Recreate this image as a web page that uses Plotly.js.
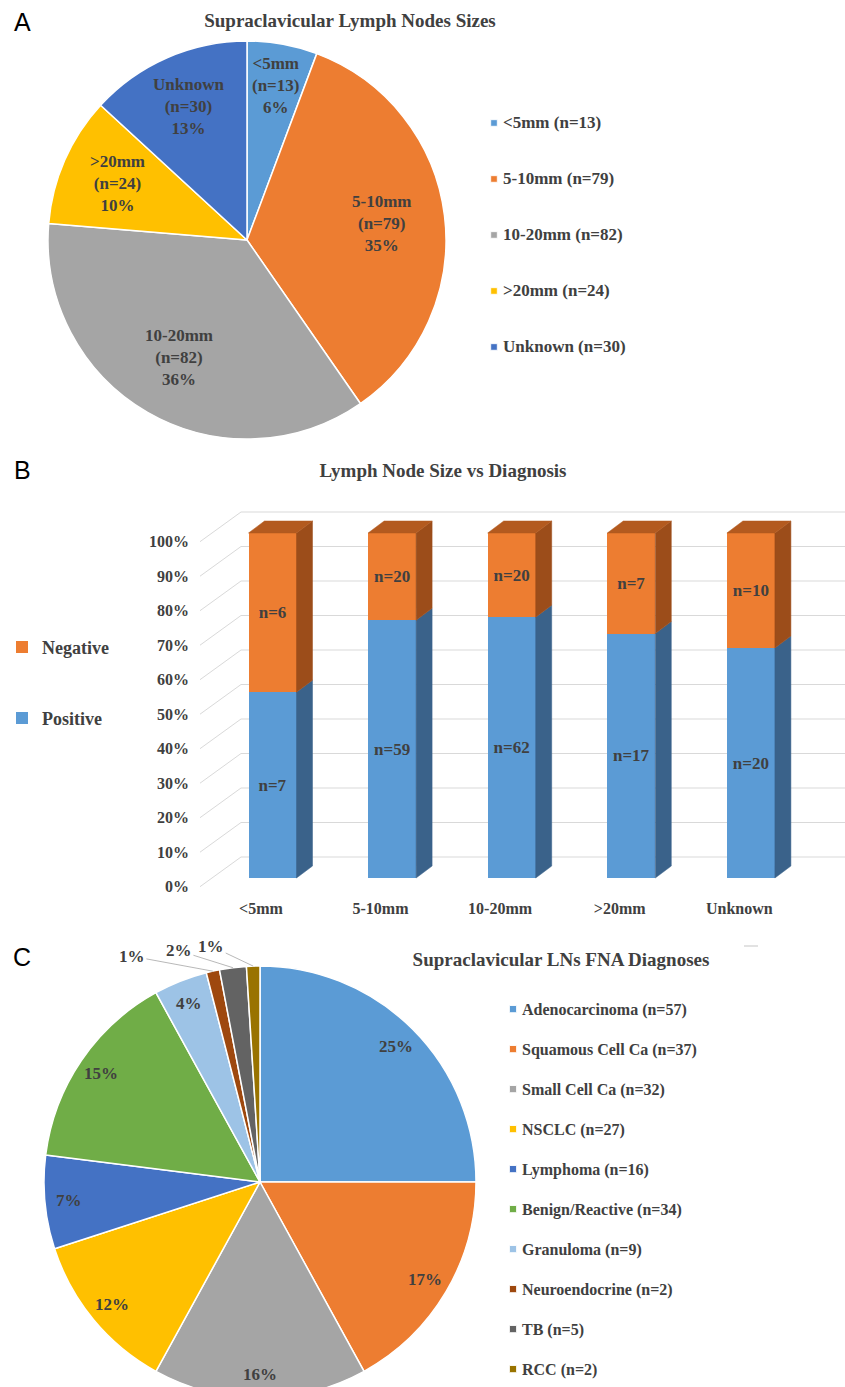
<!DOCTYPE html>
<html><head><meta charset="utf-8">
<script src="https://cdn.plot.ly/plotly-3.0.1.min.js"></script>
<style>
html,body{margin:0;padding:0;overflow:hidden;background:#fff;width:845px;height:1387px;}
.panel{position:absolute;left:0;width:845px;}
#pa{top:0;height:460px}
#pb{top:455px;height:475px}
#pc{top:930px;height:480px}
#pa .legendpie{transform:translate(31px,0px) scale(0.55);}
#pc .legendpie{transform:translate(31px,0px) scale(0.6);}
#pb .legendbar{transform:translate(29px,0px) scale(0.75);}
</style></head><body>
<div id="pa" class="panel"></div>
<div id="pb" class="panel"></div>
<div id="pc" class="panel"></div>
<script>
// ---------------- DATA ----------------
const sizeCategories = ['<5mm', '5-10mm', '10-20mm', '>20mm', 'Unknown'];
const sizeCounts = [13, 79, 82, 24, 30];
const sizePctLabels = [6, 35, 36, 10, 13];

const diagCategories = ['<5mm', '5-10mm', '10-20mm', '>20mm', 'Unknown'];
const positiveCounts = [7, 59, 62, 17, 20];
const negativeCounts = [6, 20, 20, 7, 10];
const yTickValues = [0, 10, 20, 30, 40, 50, 60, 70, 80, 90, 100];

const fnaCategories = ['Adenocarcinoma', 'Squamous Cell Ca', 'Small Cell Ca', 'NSCLC', 'Lymphoma',
  'Benign/Reactive', 'Granuloma', 'Neuroendocrine', 'TB', 'RCC'];
const fnaCounts = [57, 37, 32, 27, 16, 34, 9, 2, 5, 2];
const fnaPercents = [25, 17, 16, 12, 7, 15, 4, 1, 2, 1];

// ---------------- STYLE ----------------
const W = 845;
const SERIF = 'Liberation Serif, Times New Roman, serif';
const TXT = '#404040';
const sizeColors = ['#5B9BD5', '#ED7D31', '#A5A5A5', '#FFC000', '#4472C4'];
const fnaColors = ['#5B9BD5', '#ED7D31', '#A5A5A5', '#FFC000', '#4472C4', '#70AD47', '#9DC3E6', '#9E480E', '#636363', '#997300'];
const posColor = '#5B9BD5', negColor = '#ED7D31';
const posSide = '#3A628A', negSide = '#9C4D1A', negTop = '#B35A1F';
const gridColor = '#D9D9D9';
const cfg = {staticPlot: true};

function esc(s) { return s.replace(/&/g, '&amp;').replace(/</g, '&lt;').replace(/>/g, '&gt;'); }
function letter(t, xpx, ypx, H) {
  return {text: t, x: xpx / W, y: 1 - ypx / H, xref: 'paper', yref: 'paper', showarrow: false,
    xanchor: 'center', yanchor: 'middle', font: {family: 'Liberation Sans, Arial, sans-serif', size: 25, color: '#000'}};
}
// label position on a pie, from the slice values (clockwise from 12 o'clock)
function pieLabelPos(values, i, pie, rFrac, H) {
  const tot = values.reduce((a, b) => a + b, 0);
  let before = 0; for (let k = 0; k < i; k++) before += values[k];
  const th = (before + values[i] / 2) / tot * 2 * Math.PI;
  const px = pie.cx + rFrac * pie.r * Math.sin(th);
  const py = pie.cy - rFrac * pie.r * Math.cos(th);
  return {x: px / W, y: 1 - py / H, px: px, py: py};
}

// ---------------- PANEL A ----------------
(function () {
  const H = 460;
  const pie = {cx: 247, cy: 240, r: 199};
  const labelRadius = [0.79, 0.68, 0.68, 0.71, 0.73];
  const trace = {
    type: 'pie', values: sizeCounts,
    labels: sizeCategories.map((c, i) => '<span style="font-size:17px">' + esc(c) + ' (n=' + sizeCounts[i] + ')</span><br> <br> '),
    sort: false, direction: 'clockwise', rotation: 0,
    marker: {colors: sizeColors, line: {color: '#fff', width: 1.5}},
    textinfo: 'none', hoverinfo: 'none',
    domain: {x: [(pie.cx - pie.r) / W, (pie.cx + pie.r) / W], y: [1 - (pie.cy + pie.r) / H, 1 - (pie.cy - pie.r) / H]}
  };
  const ann = sizeCategories.map((c, i) => {
    const p = pieLabelPos(sizeCounts, i, pie, labelRadius[i], H);
    return {text: esc(c) + '<br>(n=' + sizeCounts[i] + ')<br>' + sizePctLabels[i] + '%', x: p.x, y: p.y,
      xref: 'paper', yref: 'paper', showarrow: false, xanchor: 'center', yanchor: 'middle',
      font: {family: SERIF, size: 17, color: TXT, weight: 'bold'}};
  });
  ann.push(letter('A', 22, 22, H));
  const layout = {
    width: W, height: H, margin: {l: 0, r: 0, t: 0, b: 0}, paper_bgcolor: '#fff',
    title: {text: 'Supraclavicular Lymph Nodes Sizes', x: 350 / W, y: 1 - 20 / H, xanchor: 'center', yanchor: 'middle',
      font: {family: SERIF, size: 19, color: TXT, weight: 'bold'}},
    showlegend: true,
    legend: {x: 463 / W, y: 0.766, xanchor: 'left', yanchor: 'top', valign: 'top', bgcolor: 'rgba(0,0,0,0)',
      font: {family: SERIF, size: 13.59, color: TXT, weight: 'bold'}},
    annotations: ann
  };
  Plotly.newPlot('pa', [trace], layout, cfg);
})();

// ---------------- PANEL B ----------------
(function () {
  const H = 475;
  const frame = {left: 190, right: 845, top: 505, bottom: 893, first: 272.5, step: 119.6, zeroY: 878, pxPer: 3.45};
  const barWidth = 48 / frame.step;
  const depthX = 16 / frame.step, depthY = 12 / frame.pxPer;           // bar depth
  const wallBackY = 21 / frame.pxPer, frontPlaneY = -8.7 / frame.pxPer; // back wall / front plane offsets
  const frontPlaneX = -11.6 / frame.step;
  const xFront = (200 - frame.first) / frame.step, xBack = (241 - frame.first) / frame.step;
  const xr = [(frame.left - frame.first) / frame.step, (frame.right - frame.first) / frame.step];
  const yr = [(frame.zeroY - frame.bottom) / frame.pxPer, (frame.zeroY - frame.top) / frame.pxPer];
  const xs = diagCategories.map((c, i) => i);
  const pct = positiveCounts.map((p, i) => p / (p + negativeCounts[i]) * 100);

  const font = {family: SERIF, size: 17, color: TXT, weight: 'bold'};
  const traces = [
    {type: 'bar', name: 'Positive', x: xs, y: positiveCounts, width: barWidth, legendgroup: 'p', legendrank: 2,
      marker: {color: posColor}, text: positiveCounts.map(n => 'n=' + n), textposition: 'inside',
      insidetextanchor: 'middle', textangle: 0, textfont: font, hoverinfo: 'none'},
    {type: 'bar', name: 'Negative', x: xs, y: negativeCounts, width: barWidth, legendgroup: 'n', legendrank: 1,
      marker: {color: negColor}, text: negativeCounts.map(n => 'n=' + n), textposition: 'inside',
      insidetextanchor: 'middle', textangle: 0, textfont: font, hoverinfo: 'none'}
  ];
  const shapes = [];
  yTickValues.forEach(t => {
    shapes.push({type: 'line', layer: 'below', xref: 'x', yref: 'y', x0: xBack, x1: xr[1], y0: t + wallBackY, y1: t + wallBackY,
      line: {color: gridColor, width: 1}});
    shapes.push({type: 'line', layer: 'below', xref: 'x', yref: 'y', x0: xFront, x1: xBack, y0: t + frontPlaneY, y1: t + wallBackY,
      line: {color: gridColor, width: 1}});
  });
  const P = (x, y) => x + ',' + y;
  xs.forEach((x, i) => {
    const l = x - barWidth / 2, r = x + barWidth / 2, p = pct[i];
    shapes.push({type: 'path', xref: 'x', yref: 'y', fillcolor: posSide, line: {color: posSide, width: 0.5},
      path: 'M' + P(r, 0) + 'L' + P(r + depthX, depthY) + 'L' + P(r + depthX, p + depthY) + 'L' + P(r, p) + 'Z'});
    shapes.push({type: 'path', xref: 'x', yref: 'y', fillcolor: negSide, line: {color: negSide, width: 0.5},
      path: 'M' + P(r, p) + 'L' + P(r + depthX, p + depthY) + 'L' + P(r + depthX, 100 + depthY) + 'L' + P(r, 100) + 'Z'});
    shapes.push({type: 'path', xref: 'x', yref: 'y', fillcolor: negTop, line: {color: negTop, width: 0.5},
      path: 'M' + P(l, 100) + 'L' + P(l + depthX, 100 + depthY) + 'L' + P(r + depthX, 100 + depthY) + 'L' + P(r, 100) + 'Z'});
  });
  const tickFont = {family: SERIF, size: 16, color: TXT, weight: 'bold'};
  const layout = {
    width: W, height: H, margin: {l: 0, r: 0, t: 0, b: 0}, paper_bgcolor: '#fff', plot_bgcolor: 'rgba(0,0,0,0)',
    barmode: 'stack', barnorm: 'percent',
    title: {text: 'Lymph Node Size vs Diagnosis', x: 443 / W, y: 1 - 15 / H, xanchor: 'center', yanchor: 'middle',
      font: {family: SERIF, size: 19, color: TXT, weight: 'bold'}},
    xaxis: {domain: [frame.left / W, frame.right / W], range: xr, tickvals: xs.map(x => x + frontPlaneX),
      ticktext: diagCategories.map(esc), showgrid: false, zeroline: false, showline: false, ticks: '',
      tickfont: tickFont, ticklabelstandoff: 4},
    yaxis: {domain: [1 - (frame.bottom - 455) / H, 1 - (frame.top - 455) / H], range: yr,
      tickvals: yTickValues.map(t => t + frontPlaneY), ticktext: yTickValues.map(t => t + '%'),
      showgrid: false, zeroline: false, showline: false, ticks: '', tickfont: tickFont},
    showlegend: true,
    legend: {x: 2 / W, y: 0.634, xanchor: 'left', yanchor: 'top', traceorder: 'grouped', tracegroupgap: 44.6,
      bgcolor: 'rgba(0,0,0,0)', font: {family: SERIF, size: 18, color: TXT, weight: 'bold'}},
    shapes: shapes,
    annotations: [letter('B', 22, 470 - 455, H)]
  };
  Plotly.newPlot('pb', traces, layout, cfg);
})();

// ---------------- PANEL C ----------------
(function () {
  const H = 480;
  const pie = {cx: 260, cy: 252, r: 216};
  const outside = [false, false, false, false, false, false, false, true, true, true];
  const outsideOffset = {7: [-81, -15], 8: [-54, -17], 9: [-42, -20]};
  const trace = {
    type: 'pie', values: fnaPercents,
    labels: fnaCategories.map((c, i) => '<span style="font-size:16px">' + esc(c) + ' (n=' + fnaCounts[i] + ')</span><br> '),
    sort: false, direction: 'clockwise', rotation: 0,
    marker: {colors: fnaColors, line: {color: '#fff', width: 1.5}},
    textinfo: 'none', hoverinfo: 'none',
    domain: {x: [(pie.cx - pie.r) / W, (pie.cx + pie.r) / W], y: [1 - (pie.cy + pie.r) / H, 1 - (pie.cy - pie.r) / H]}
  };
  const font = {family: SERIF, size: 17, color: TXT, weight: 'bold'};
  const ann = fnaCategories.map((c, i) => {
    if (!outside[i]) {
      const p = pieLabelPos(fnaPercents, i, pie, 0.89, H);
      return {text: fnaPercents[i] + '%', x: p.x, y: p.y, xref: 'paper', yref: 'paper', showarrow: false,
        xanchor: 'center', yanchor: 'middle', font: font};
    }
    const p = pieLabelPos(fnaPercents, i, pie, 1.0, H);
    return {text: fnaPercents[i] + '%', x: p.x, y: p.y, xref: 'paper', yref: 'paper', showarrow: true,
      arrowhead: 0, arrowwidth: 0.8, arrowcolor: '#A6A6A6', ax: outsideOffset[i][0], ay: outsideOffset[i][1],
      standoff: 0, startstandoff: 0, font: font};
  });
  ann.push(letter('C', 22, 27, H));
  const layout = {
    width: W, height: H, margin: {l: 0, r: 0, t: 0, b: 0}, paper_bgcolor: '#fff',
    title: {text: 'Supraclavicular LNs FNA Diagnoses', x: 561 / W, y: 1 - 29 / H, xanchor: 'center', yanchor: 'middle',
      font: {family: SERIF, size: 19, color: TXT, weight: 'bold'}},
    showlegend: true,
    legend: {x: 482 / W, y: 0.868, xanchor: 'left', yanchor: 'top', valign: 'top', bgcolor: 'rgba(0,0,0,0)',
      font: {family: SERIF, size: 14.23, color: TXT, weight: 'bold'}},
    shapes: [{type: 'line', xref: 'paper', yref: 'paper', x0: 744 / W, x1: 758 / W, y0: 1 - 16 / H, y1: 1 - 16 / H,
      line: {color: '#D9D9D9', width: 1.5}}],
    annotations: ann
  };
  Plotly.newPlot('pc', [trace], layout, cfg);
})();
</script>
</body></html>
